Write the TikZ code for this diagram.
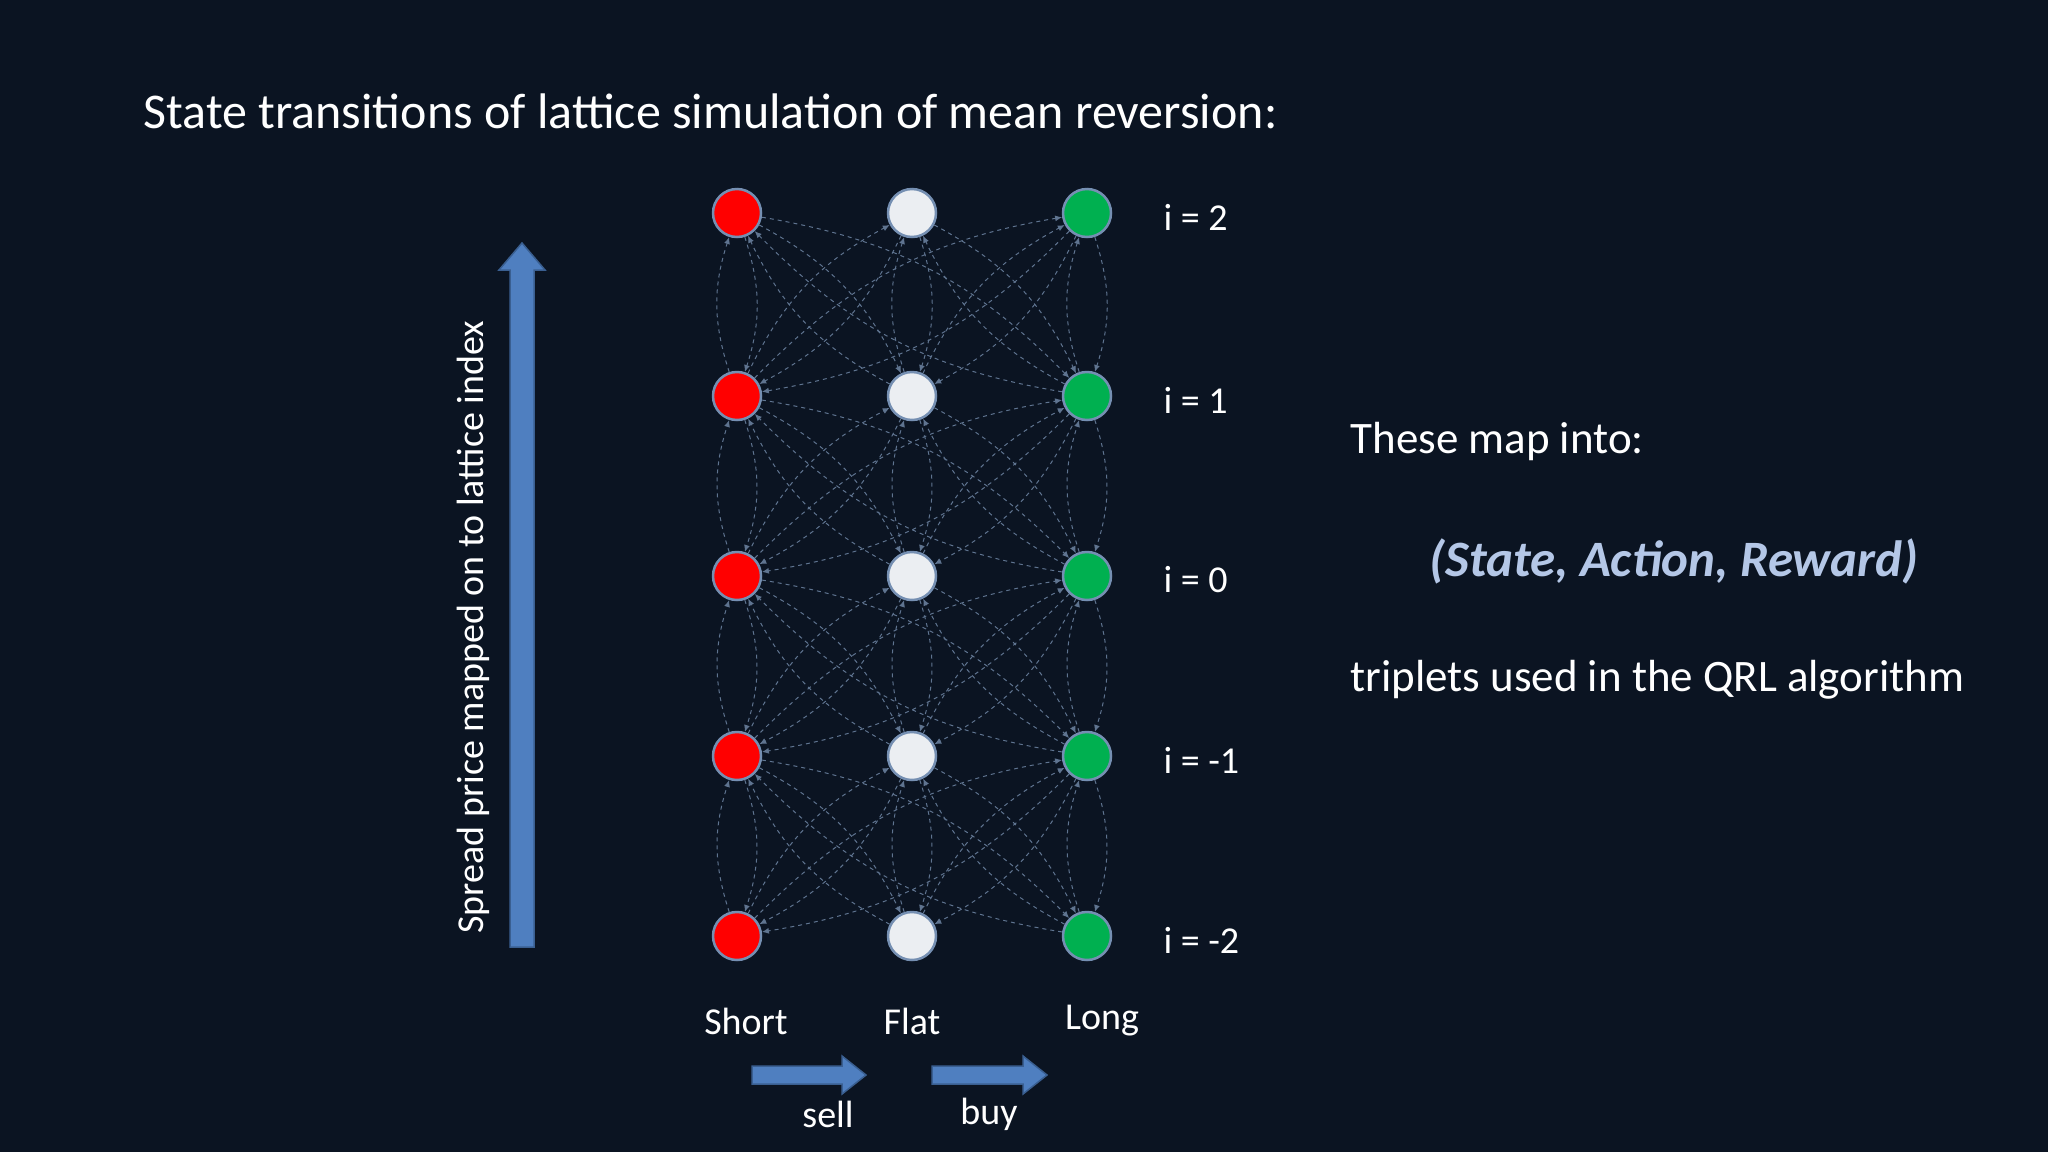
\documentclass[tikz,border=0pt]{standalone}
\usepackage{fontspec}
\setmainfont{Carlito}
\usetikzlibrary{arrows.meta}
\definecolor{bg}{HTML}{0B1422}
\definecolor{edge}{HTML}{5F7490}
\definecolor{arr}{HTML}{4F7FC0}
\definecolor{arrd}{HTML}{3A5F91}
\definecolor{red1}{HTML}{FF0000}
\definecolor{grn}{HTML}{00B050}
\definecolor{wht}{HTML}{EBEEF2}
\definecolor{lb}{HTML}{B4C7E7}
\begin{document}
\begin{tikzpicture}[x=1pt,y=-1pt,
  st/.style={circle,minimum size=48pt,inner sep=0pt,line width=2.5pt,draw=arrd!70!white},
  tr/.style={draw=edge,dashed,dash pattern=on 4pt off 4pt,line width=1pt,-{Latex[length=7pt,width=6pt]}},
  txt/.style={text=white,font=\fontsize{38}{42}\selectfont},
  big/.style={text=white,font=\fontsize{45}{50}\selectfont},
  fat/.style={draw=arrd,fill=arr,line width=1.5pt}]
\fill[bg] (0,0) rectangle (2048,1152);
\useasboundingbox (0,0) rectangle (2048,1152);
\node[txt,anchor=west,font=\fontsize{50}{55}\selectfont] (title) at (140,111) {State transitions of lattice simulation of mean reversion:};
\foreach \r/\y/\lab in {0/213/2,1/396/1,2/576/0,3/756/-1,4/936/-2}{
  \node[st,fill=red1] (n\r0) at (737,\y) {};
  \node[st,fill=wht] (n\r1) at (912,\y) {};
  \node[st,fill=grn] (n\r2) at (1087,\y) {};
  \node[txt,anchor=west] (i\r) at (1160,\y+4) {i = \lab};
}
\foreach \r [evaluate=\r as \s using int(\r+1)] in {0,1,2,3}{
  \foreach \a in {0,1,2}{
    \foreach \b in {0,1,2}{
      \draw[tr] (n\r\a) to[bend left=18] (n\s\b);
      \draw[tr] (n\s\b) to[bend left=18] (n\r\a);
    }
  }
}
% vertical arrow
\draw[fat] (510,947) -- (510,270) -- (499,270) -- (522,243) -- (545,270) -- (534,270) -- (534,947) -- cycle;
\node[txt,rotate=90] (ylab) at (473,627) {Spread price mapped on to lattice index};
\node[txt] (short) at (746,1021) {Short};
\node[txt] (flat) at (912,1021) {Flat};
\node[txt] (long) at (1102,1021) {Long};
\draw[fat] (752,1066) -- (842,1066) -- (842,1056) -- (866,1075) -- (842,1094) -- (842,1084) -- (752,1084) -- cycle;
\draw[fat] (932,1066) -- (1023,1066) -- (1023,1056) -- (1047,1075) -- (1023,1094) -- (1023,1084) -- (932,1084) -- cycle;
\node[txt] (sell) at (828,1114) {sell};
\node[txt] (buy) at (989,1114) {buy};
\node[big,anchor=west] (map) at (1347,441) {These map into:};
\node[txt,text=lb,font=\fontsize{51}{56}\selectfont\bfseries\itshape] (sar) at (1674,561) {(State, Action, Reward)};
\node[big,anchor=west] (trip) at (1347,680) {triplets used in the QRL algorithm};
\end{tikzpicture}
\end{document}
